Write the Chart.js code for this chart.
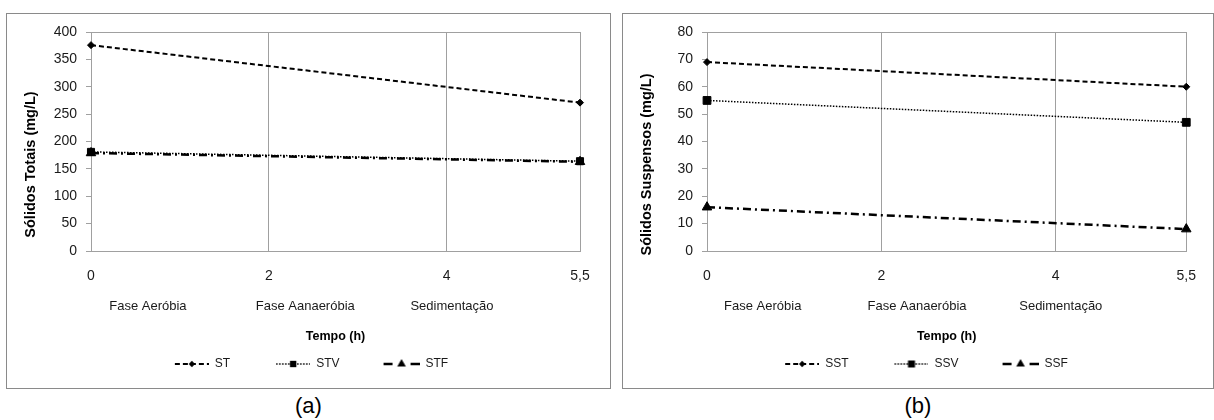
<!DOCTYPE html>
<html>
<head>
<meta charset="utf-8">
<script src="https://cdn.jsdelivr.net/npm/chart.js@4.4.1/dist/chart.umd.min.js"></script>
<style>
  html, body { margin: 0; padding: 0; background: #fff; }
  body { width: 1214px; height: 420px; position: relative; overflow: hidden; font-family: "Liberation Sans", Arial, sans-serif; }
  .panel { position: absolute; top: 13px; height: 376px; border: 1px solid #8a8a8a; box-sizing: border-box; }
  #panelA { left: 6px; width: 605px; }
  #panelB { left: 622px; width: 592px; }
  .panel canvas { display: block; }
  .caption { position: absolute; top: 393px; font-size: 22px; line-height: 26px; text-align: center; color: #000; }
</style>
</head>
<body>
<div class="panel" id="panelA"><canvas id="chartA" width="603" height="374"></canvas></div>
<div class="panel" id="panelB"><canvas id="chartB" width="590" height="374"></canvas></div>
<div class="caption" style="left:6px; width:605px;">(a)</div>
<div class="caption" style="left:622px; width:592px;">(b)</div>
<script>
// data
const timeH = [0, 5.5];
const xTicks = [0, 2, 4, 5.5];
const phaseLabels = ['Fase Aeróbia', 'Fase Aanaeróbia', 'Sedimentação'];
const phaseAt = [0.64, 2.41, 4.06];

const st = [376, 271];
const stv = [181, 164];
const stf = [179, 163];

const sst = [69, 60];
const ssv = [55, 47];
const ssf = [16, 8];

Chart.defaults.font.family = '"Liberation Sans", Arial, sans-serif';
Chart.defaults.color = '#1a1a1a';

const GRID = '#a0a0a0';
const TEXT = '#1a1a1a';

function drawMarker(g, kind, cx, cy, r) {
    g.beginPath();
    if (kind === 'rectRot') {
        g.moveTo(cx, cy - r); g.lineTo(cx + r, cy); g.lineTo(cx, cy + r); g.lineTo(cx - r, cy);
    } else if (kind === 'rect') {
        const h = r * Math.SQRT1_2;
        g.rect(cx - h, cy - h, 2 * h, 2 * h);
    } else {
        g.moveTo(cx, cy - r);
        g.lineTo(cx + r * Math.sin(Math.PI * 2 / 3), cy + r * 0.5);
        g.lineTo(cx - r * Math.sin(Math.PI * 2 / 3), cy + r * 0.5);
    }
    g.closePath();
    g.fill();
}

// legend sample: line with marker in the middle, right-aligned in the box
function legendSample(ds, len, boxW) {
    const c = document.createElement('canvas');
    c.width = boxW; c.height = 14;
    const g = c.getContext('2d');
    g.strokeStyle = '#000'; g.fillStyle = '#000';
    g.lineWidth = ds.borderWidth;
    const x0 = boxW - len, cx = boxW - len / 2;
    if (ds.borderDash.length > 2) {
        // dash-dot series: just one short dash on each side of the marker
        g.beginPath();
        g.moveTo(x0, 7); g.lineTo(cx - 9, 7);
        g.moveTo(cx + 9, 7); g.lineTo(boxW, 7);
        g.stroke();
    } else {
        g.setLineDash(ds.borderDash);
        g.beginPath(); g.moveTo(x0, 7); g.lineTo(boxW, 7); g.stroke();
        g.setLineDash([]);
    }
    drawMarker(g, ds.pointStyle, cx, 7, ds.pointRadius * 0.9);
    return c;
}

function series(label, values, dash, width, style, radius) {
    return {
        label,
        data: timeH.map((t, i) => ({ x: t, y: values[i] })),
        borderColor: '#000',
        backgroundColor: '#000',
        borderWidth: width,
        borderDash: dash,
        pointStyle: style,
        pointRadius: radius,
        pointBackgroundColor: '#000',
        pointBorderColor: '#000',
        pointBorderWidth: 1,
        fill: false,
        tension: 0,
        clip: false
    };
}

const plotBorder = {
    id: 'plotBorder',
    beforeDatasetsDraw(chart) {
        const { ctx, chartArea: a } = chart;
        ctx.save();
        ctx.strokeStyle = GRID;
        ctx.lineWidth = 1;
        ctx.beginPath();
        ctx.moveTo(a.left, Math.round(a.top) + 0.5);
        ctx.lineTo(a.right, Math.round(a.top) + 0.5);
        ctx.stroke();
        ctx.restore();
    }
};

// the y title sits a bit below the middle of the plot, as in the original
const yTitleShift = {
    id: 'yTitleShift',
    afterLayout(chart) {
        const y = chart.scales.y;
        if (y._shifted) return;
        const orig = y.drawTitle;
        y.drawTitle = function () {
            this.ctx.save();
            this.ctx.translate(0, 23);
            orig.call(this);
            this.ctx.restore();
        };
        y._shifted = true;
    }
};

const BOX_W = 70;

function makeChart(id, datasets, yMax, yStep, yTitle, padRight) {
    const lens = [34, 34, 36];
    const samples = datasets.map((ds, i) => legendSample(ds, lens[i], BOX_W));
    new Chart(document.getElementById(id), {
        type: 'line',
        data: { datasets },
        options: {
            responsive: false,
            animation: false,
            layout: { padding: { top: 18, right: padRight, bottom: 8, left: 0 } },
            plugins: {
                tooltip: { enabled: false },
                legend: {
                    position: 'bottom',
                    labels: {
                        usePointStyle: true,
                        pointStyleWidth: BOX_W,
                        padding: 10,
                        color: TEXT,
                        font: { size: 12 },
                        generateLabels: chart => chart.data.datasets.map((ds, i) => ({
                            text: ds.label,
                            pointStyle: samples[i],
                            fillStyle: '#000',
                            strokeStyle: '#000',
                            lineWidth: 0,
                            hidden: false,
                            datasetIndex: i,
                            fontColor: TEXT
                        }))
                    }
                }
            },
            scales: {
                x: {
                    type: 'linear',
                    position: 'bottom',
                    min: 0,
                    max: 5.5,
                    afterBuildTicks: s => { s.ticks = xTicks.map(v => ({ value: v })); },
                    ticks: {
                        autoSkip: false, maxRotation: 0, padding: 17, color: TEXT,
                        font: { size: 14 },
                        callback: v => String(v).replace('.', ',')
                    },
                    grid: { color: GRID, drawTicks: false, lineWidth: 1 },
                    border: { color: GRID },
                    afterFit: s => { s.height = 40; }
                },
                phase: {
                    type: 'linear',
                    position: 'bottom',
                    min: 0,
                    max: 5.5,
                    afterBuildTicks: s => { s.ticks = phaseAt.map(v => ({ value: v })); },
                    ticks: {
                        autoSkip: false, maxRotation: 0, padding: 0, color: TEXT,
                        font: { size: 13 },
                        callback: (v, i) => phaseLabels[i]
                    },
                    grid: { display: false },
                    border: { display: false },
                    title: {
                        display: true, text: 'Tempo (h)', color: '#000',
                        font: { size: 12.5, weight: 'bold' },
                        padding: { top: 0, bottom: 4 }
                    },
                    afterFit: s => { s.height = 57; }
                },
                y: {
                    min: 0,
                    max: yMax,
                    ticks: { stepSize: yStep, padding: 9, color: TEXT, font: { size: 14 } },
                    grid: { drawOnChartArea: false, tickLength: 5, color: GRID },
                    border: { color: GRID },
                    title: {
                        display: true, text: yTitle, color: '#000',
                        font: { size: 14.5, weight: 'bold' },
                        padding: { top: 15, bottom: 0 }
                    },
                    afterFit: s => { s.width = 84; }
                }
            }
        },
        plugins: [plotBorder, yTitleShift]
    });
}

makeChart('chartA', [
    series('ST', st, [5, 3], 2, 'rectRot', 3.5),
    series('STV', stv, [1.5, 1.5], 1.5, 'rect', 5),
    series('STF', stf, [8, 4, 2, 4], 2.5, 'triangle', 5.5)
], 400, 50, 'Sólidos Totais (mg/L)', 30);

makeChart('chartB', [
    series('SST', sst, [5, 3], 2, 'rectRot', 3.5),
    series('SSV', ssv, [1.5, 1.5], 1.5, 'rect', 5.5),
    series('SSF', ssf, [8, 4, 2, 4], 2.5, 'triangle', 5.5)
], 80, 10, 'Sólidos Suspensos (mg/L)', 19);
</script>
</body>
</html>
